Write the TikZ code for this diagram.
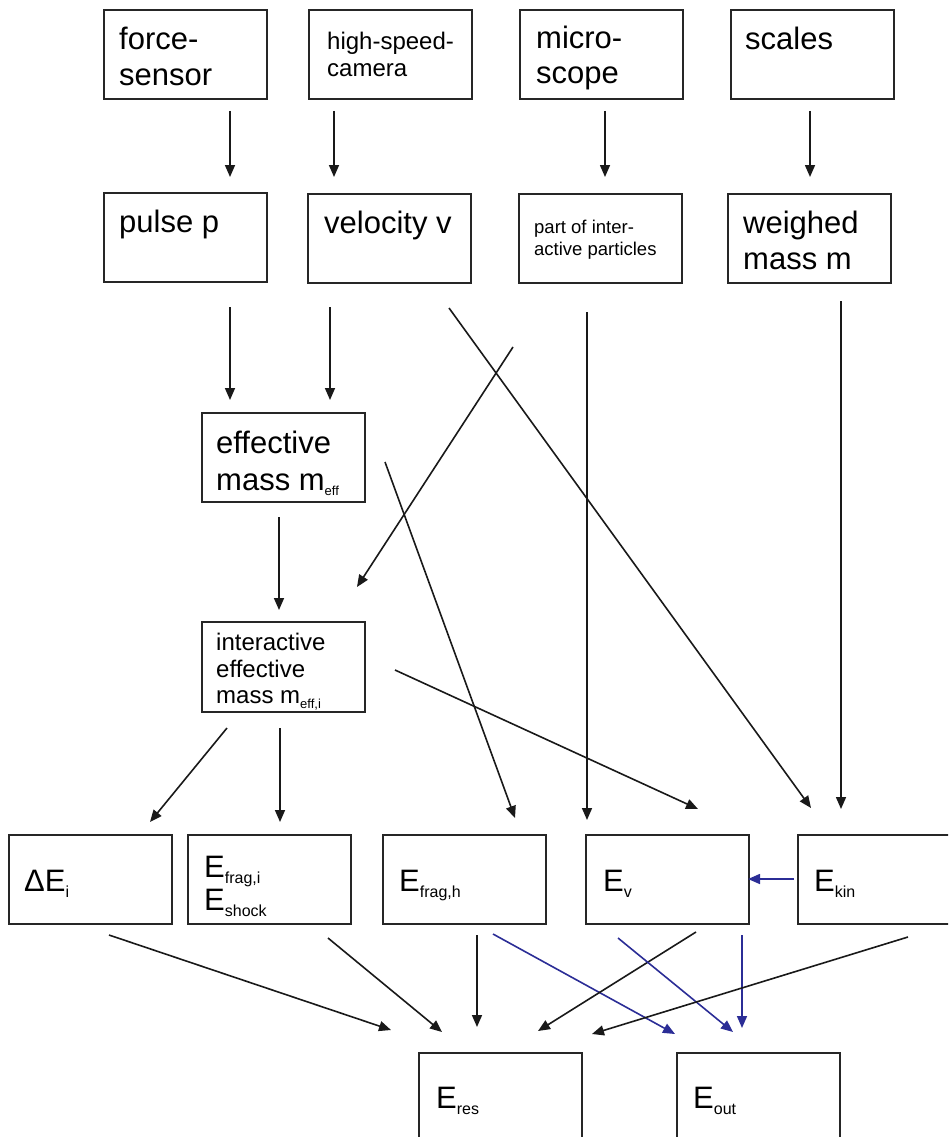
\documentclass[tikz,border=0pt]{standalone}
\usepackage{fontspec}
\setmainfont{Liberation Sans}
\usetikzlibrary{calc,arrows.meta}
\definecolor{arrblue}{RGB}{43,45,150}
\newcommand\subE[1]{\raisebox{-6pt}{\fontsize{16}{16}\selectfont #1}}
\newcommand\subM[1]{\raisebox{-5pt}{\fontsize{13}{13}\selectfont #1}}
\begin{document}
\begin{tikzpicture}[x=1pt,y=-1pt,
  box/.style={draw=black!85, line width=1.2pt, anchor=north west, minimum width=163pt, minimum height=89pt, inner sep=0pt, outer sep=0pt},
  big/.style={anchor=base west, inner sep=0pt, font=\fontsize{31}{36}\selectfont},
  mid/.style={anchor=base west, inner sep=0pt, font=\fontsize{24}{27}\selectfont},
  sml/.style={anchor=base west, inner sep=0pt, font=\fontsize{18.5}{21}\selectfont},
  arr/.style={draw=black!90, line width=1.6pt, -{Triangle[length=12pt,width=10pt]}},
  barr/.style={arr, draw=arrblue}
]
\useasboundingbox (0,0) rectangle (948,1137);
\clip (0,0) rectangle (948,1137);

% boxes
\node[box] (fs)  at (104,10)  {};
\node[box] (hsc) at (309,10)  {};
\node[box] (mic) at (520,10)  {};
\node[box] (sca) at (731,10)  {};
\node[box] (pp)  at (104,193) {};
\node[box] (vel) at (308,194) {};
\node[box] (pip) at (519,194) {};
\node[box] (wm)  at (728,194) {};
\node[box] (eff) at (202,413) {};
\node[box, minimum height=90pt] (iem) at (202,622) {};
\node[box] (dE)  at (9,835)   {};
\node[box] (efi) at (188,835) {};
\node[box] (efh) at (383,835) {};
\node[box] (ev)  at (586,835) {};
\node[box] (ek)  at (798,835) {};
\node[box, minimum height=100pt] (eres) at (419,1053) {};
\node[box, minimum height=100pt] (eout) at (677,1053) {};

% texts
\node[big] (t1a) at (119,50) {force-};
\node[big] (t1b) at (119,86) {sensor};
\node[mid] (t2a) at (327,50) {high-speed-};
\node[mid] (t2b) at (327,77) {camera};
\node[big] (t3a) at (536,49) {micro-};
\node[big] (t3b) at (536,84) {scope};
\node[big] (t4a) at (745,50) {scales};
\node[big] (t5a) at (119,232) {pulse p};
\node[big] (t6a) at (324,233) {velocity v};
\node[sml] (t7a) at (534,233) {part of inter-};
\node[sml] (t7b) at (534,255) {active particles};
\node[big] (t8a) at (743,233) {weighed};
\node[big] (t8b) at (743,269) {mass m};
\node[big] (t9a) at (216,453) {effective};
\node[big] (t9b) at (216,490) {mass m\subM{eff}};
\node[mid] (t10a) at (216,650) {interactive};
\node[mid] (t10b) at (216,677) {effective};
\node[mid] (t10c) at (216,703) {mass m\subM{eff,i}};
\node[big] (t11) at (24,891) {ΔE\subE{i}};
\node[big] (t12a) at (204,877) {E\subE{frag,i}};
\node[big] (t12b) at (204,910) {E\subE{shock}};
\node[big] (t13) at (399,891) {E\subE{frag,h}};
\node[big] (t14) at (603,891) {E\subE{v}};
\node[big] (t15) at (814,891) {E\subE{kin}};
\node[big] (t16) at (436,1108) {E\subE{res}};
\node[big] (t17) at (693,1108) {E\subE{out}};

% arrows: instruments -> measured quantities
\draw[arr] ($(fs.north west)+(126,101)$) -- ($(pp.north west)+(126,-16)$);
\draw[arr] ($(hsc.north west)+(25,101)$) -- ($(vel.north west)+(26,-17)$);
\draw[arr] ($(mic.north west)+(85,101)$) -- ($(pip.north west)+(86,-17)$);
\draw[arr] ($(sca.north west)+(79,101)$) -- ($(wm.north west)+(82,-17)$);
% second row
\draw[arr] ($(pp.north west)+(126,114)$) -- ($(eff.north west)+(28,-13)$);
\draw[arr] ($(vel.north west)+(22,113)$) -- ($(eff.north west)+(128,-13)$);
\draw[arr] ($(vel.north west)+(141,114)$) -- ($(ek.north west)+(13,-27)$);
\draw[arr] ($(pip.north west)+(-6,153)$) -- ($(iem.north west)+(155,-35)$);
\draw[arr] ($(pip.north west)+(68,118)$) -- ($(ev.north west)+(1,-15)$);
\draw[arr] ($(wm.north west)+(113,107)$) -- ($(ek.north west)+(43,-26)$);
% effective mass
\draw[arr] ($(eff.north west)+(77,104)$) -- ($(iem.north west)+(77,-12)$);
\draw[arr] ($(eff.north west)+(183,49)$) -- ($(efh.north west)+(132,-17)$);
% interactive effective mass
\draw[arr] ($(iem.north west)+(193,48)$) -- ($(ev.north west)+(112,-26)$);
\draw[arr] ($(iem.north west)+(25,106)$) -- ($(dE.north west)+(141,-13)$);
\draw[arr] ($(iem.north west)+(78,106)$) -- ($(efi.north west)+(92,-13)$);
% E_kin -> E_v
\draw[barr] ($(ek.north west)+(-4,44)$) -- ($(ev.north west)+(162,44)$);
% to E_res / E_out
\draw[arr] ($(dE.north west)+(100,100)$) -- ($(eres.north west)+(-28,-23)$);
\draw[arr] ($(efi.north west)+(140,103)$) -- ($(eres.north west)+(23,-21)$);
\draw[arr] ($(efh.north west)+(94,100)$) -- ($(eres.north west)+(58,-26)$);
\draw[barr] ($(efh.north west)+(110,99)$) -- ($(eout.north west)+(-2,-19)$);
\draw[arr] ($(ev.north west)+(110,97)$) -- ($(eres.north west)+(119,-22)$);
\draw[barr] ($(ev.north west)+(32,103)$) -- ($(eout.north west)+(56,-21)$);
\draw[barr] ($(ev.north west)+(156,100)$) -- ($(eout.north west)+(65,-25)$);
\draw[arr] ($(ek.north west)+(110,102)$) -- ($(eres.north west)+(173,-19)$);
\end{tikzpicture}
\end{document}
